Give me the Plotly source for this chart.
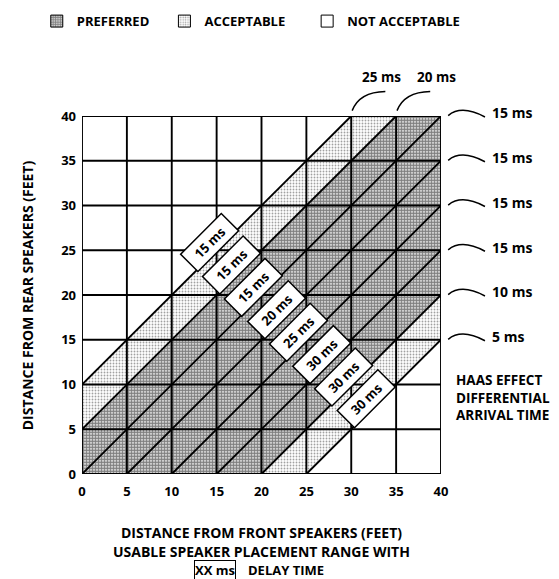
import plotly.graph_objects as go

# feet, both axes
ticks = [0, 5, 10, 15, 20, 25, 30, 35, 40]

# diagonal bands: lower edge of (rear - front) and rating of each band
band_lo = [-40, -35, -30, -25, -20, -15, -10, -5, 0, 5, 10, 15, 20, 25, 30, 35]
band_rating = ["N", "N", "N", "A", "P", "P", "P", "P", "P", "A", "N", "N", "N", "N", "N", "N"]
band_w = 5

# delay time tags along the diagonal
delay_labels = ["15 ms", "15 ms", "15 ms", "20 ms", "25 ms", "30 ms", "30 ms", "30 ms"]
delay_band = [10, 5, 0, -5, -10, -15, -20, -25]

# haas effect labels
right_labels = ["15 ms", "15 ms", "15 ms", "15 ms", "10 ms", "5 ms"]
right_y = [40, 35, 30, 25, 20, 15]
top_labels = ["25 ms", "20 ms"]
top_x = [30, 35]

rating_names = {"P": "PREFERRED", "A": "ACCEPTABLE", "N": "NOT ACCEPTABLE"}
legend_pad = {"P": 3, "A": 5, "N": 0}
patterns = {
    "P": dict(shape=".", fgcolor="black", bgcolor="white", size=3, solidity=0.72),
    "A": dict(shape=".", fgcolor="#444444", bgcolor="white", size=3, solidity=0.3),
    "N": None,
}

FONT = "Open Sans"
LO, HI = ticks[0], ticks[-1]
top_offset = [3.4, 4.5]  # label centre right of its grid line (ft)


def clip(poly, f):
    out = []
    n = len(poly)
    for i in range(n):
        p, q = poly[i], poly[(i + 1) % n]
        fp, fq = f(p), f(q)
        if fp >= 0:
            out.append(p)
        if (fp >= 0) != (fq >= 0):
            t = fp / (fp - fq)
            out.append((p[0] + t * (q[0] - p[0]), p[1] + t * (q[1] - p[1])))
    return out


def px(v):
    # feet -> paper fraction (axes span the whole plot area)
    return (v - LO) / (HI - LO)


square = [(LO, LO), (HI, LO), (HI, HI), (LO, HI)]

fig = go.Figure()

# shaded bands
shaded = []
for r in ["P", "A"]:
    xs, ys = [], []
    for lo, rat in zip(band_lo, band_rating):
        if rat != r:
            continue
        shaded.append(lo)
        hi = lo + band_w
        poly = clip(square, lambda p: (p[1] - p[0]) - lo)
        poly = clip(poly, lambda p: hi - (p[1] - p[0]))
        xs += [p[0] for p in poly] + [poly[0][0], None]
        ys += [p[1] for p in poly] + [poly[0][1], None]
    fig.add_trace(go.Scatter(x=xs, y=ys, fill="toself", mode="lines",
                             line=dict(width=0), fillpattern=patterns[r],
                             fillcolor="white", showlegend=False, hoverinfo="skip"))

# grid + diagonals (only through the shaded bands)
gx, gy = [], []
for t in ticks:
    gx += [t, t, None, LO, HI, None]
    gy += [LO, HI, None, t, t, None]
diag = sorted(set(shaded + [lo + band_w for lo in shaded]))
for d in diag:
    gx += [max(LO, LO - d), min(HI, HI - d), None]
    gy += [max(LO, LO + d), min(HI, HI + d), None]
fig.add_trace(go.Scatter(x=gx, y=gy, mode="lines", line=dict(color="black", width=1.9),
                         showlegend=False, hoverinfo="skip"))

# legend entries
for r in ["P", "A", "N"]:
    pat = patterns[r]
    marker = dict(color="white", line=dict(color="black", width=1))
    if pat:
        marker["pattern"] = pat
    fig.add_trace(go.Bar(x=[-10], y=[0], name=rating_names[r] + "\u00a0" * legend_pad[r], marker=marker))

anns = []
# delay tags
for lab, d in zip(delay_labels, delay_band):
    c = d + 1.7
    anns.append(dict(x=(HI - c) / 2, y=(HI + c) / 2, text=lab, textangle=-45, showarrow=False,
                     bgcolor="white", bordercolor="black", borderwidth=1.5, borderpad=2,
                     width=52, height=19, font=dict(size=13)))

shapes = []
for lab, yv in zip(right_labels, right_y):
    anns.append(dict(x=px(45.5), y=px(yv + 0.35), xref="paper", yref="paper", text=lab,
                     xanchor="left", yanchor="middle", showarrow=False, font=dict(size=14)))
    y0 = px(yv + 0.05)
    shapes.append(dict(type="path", xref="paper", yref="paper",
                       path=f"M {px(40.8)},{y0} Q {px(42.3)},{px(yv + 1.3)} {px(44.9)},{y0 - 0.004}",
                       line=dict(color="black", width=1.5)))
for lab, xv, off in zip(top_labels, top_x, top_offset):
    anns.append(dict(x=px(xv + off), y=px(44.4), xref="paper", yref="paper", text=lab,
                     xanchor="center", yanchor="middle", showarrow=False, font=dict(size=13.5)))
    shapes.append(dict(type="path", xref="paper", yref="paper",
                       path=f"M {px(xv + 0.1)},{px(40.6)} Q {px(xv + 0.9)},{px(42.7)} {px(xv + 3.8)},{px(42.75)}",
                       line=dict(color="black", width=1.5)))

anns.append(dict(x=px(41.5), y=px(8.6), xref="paper", yref="paper",
                 text="HAAS EFFECT<br>DIFFERENTIAL<br>ARRIVAL TIME", xanchor="left", yanchor="middle",
                 align="left", showarrow=False, font=dict(size=13.5)))
anns.append(dict(x=px(-6.1), y=0.5, xref="paper", yref="paper", text="DISTANCE FROM REAR SPEAKERS (FEET)",
                 textangle=-90, xanchor="center", yanchor="middle", showarrow=False, font=dict(size=14)))
anns.append(dict(x=0.5, y=0, xref="paper", yref="paper", yshift=-58, xanchor="center", yanchor="middle",
                 text="DISTANCE FROM FRONT SPEAKERS (FEET)", showarrow=False, font=dict(size=14)))
anns.append(dict(x=0.5, y=0, xref="paper", yref="paper", yshift=-77, xanchor="center", yanchor="middle",
                 text="USABLE SPEAKER PLACEMENT RANGE WITH", showarrow=False, font=dict(size=14)))
anns.append(dict(x=px(14.8), y=0, xref="paper", yref="paper", yshift=-96, xanchor="center",
                 yanchor="middle", text="XX ms", showarrow=False, bordercolor="black", borderwidth=1,
                 borderpad=0, font=dict(size=13)))
anns.append(dict(x=px(18.3), y=0, xref="paper", yref="paper", yshift=-96, text="DELAY TIME",
                 xanchor="left", yanchor="middle", showarrow=False, font=dict(size=13)))

axis = dict(range=[LO, HI], tickvals=ticks, showgrid=False, zeroline=False, ticks="",
            showline=False, tickfont=dict(size=13, family=FONT, weight="bold", color="black"),
            fixedrange=True)
fig.update_layout(
    width=559, height=579,
    margin=dict(l=82, r=118, t=116, b=105, autoexpand=False),
    plot_bgcolor="white", paper_bgcolor="white",
    font=dict(family=FONT, weight="bold", color="black", size=13),
    xaxis=dict(axis, ticklabelstandoff=8),
    yaxis=dict(axis, ticklabelstandoff=5),
    legend=dict(orientation="h", x=-0.126, y=1.265, yanchor="middle", xanchor="left",
                font=dict(size=13), itemclick=False, bgcolor="rgba(0,0,0,0)"),
    annotations=anns, shapes=shapes,
)
# drop the page's default body margin so the figure sits at the window's corner
fig.write_html("out.html", config={"displayModeBar": False},
               post_script="document.body.style.margin='0';")
